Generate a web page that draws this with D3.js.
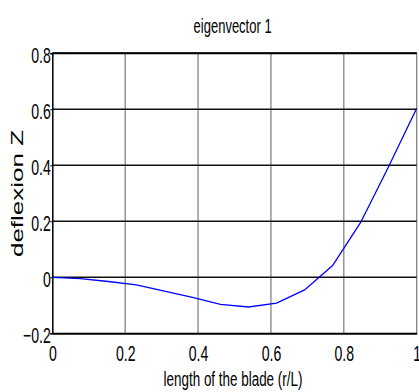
<!DOCTYPE html>
<html>
<head>
<meta charset="utf-8">
<script src="https://cdn.jsdelivr.net/npm/d3@7"></script>
<style>
  body { margin: 0; background: #fff; }
  text { font-family: "Liberation Sans", Arial, sans-serif; fill: #000; }
</style>
</head>
<body>
<div id="chart-area"></div>
<script>
// data (14 nodes along the blade)
var positions = [0, 1/13, 2/13, 3/13, 4/13, 5/13, 6/13, 7/13, 8/13, 9/13, 10/13, 11/13, 12/13, 1]
var deflexion = [0, -0.005, -0.015, -0.027, -0.049, -0.072, -0.097, -0.106, -0.092, -0.045, 0.042, 0.196, 0.396, 0.604]
var xTicks = [0, 0.2, 0.4, 0.6, 0.8, 1]
var yTicks = [-0.2, 0, 0.2, 0.4, 0.6, 0.8]

var margin = { left: 52.3, right: 2.3, top: 53.3, bottom: 58.7 }
var width = 419 - margin.left - margin.right,
    height = 392 - margin.top - margin.bottom
var squish = 0.64   // text in the picture is narrowed horizontally

var svg = d3.select("#chart-area")
  .append("svg")
    .attr("width", 419)
    .attr("height", 392)
var g = svg.append("g")
    .attr("transform", "translate(" + margin.left + "," + margin.top + ")")

// scales
var x = d3.scaleLinear().domain([0, 1]).range([0, width])
var y = d3.scaleLinear().domain([-0.2, 0.8]).range([height, 0])

// grid - vertical lines grey, horizontal lines dark
g.selectAll(".vgrid").data(xTicks.slice(1))
  .enter().append("line")
    .attr("class", "vgrid")
    .attr("x1", d => x(d)).attr("x2", d => x(d))
    .attr("y1", 0).attr("y2", height)
    .attr("stroke", "#7a7a7a")
    .attr("stroke-width", 1.2)
g.selectAll(".hgrid").data(yTicks.slice(1))
  .enter().append("line")
    .attr("class", "hgrid")
    .attr("x1", 0).attr("x2", width)
    .attr("y1", d => y(d)).attr("y2", d => y(d))
    .attr("stroke", "#111")
    .attr("stroke-width", 1.5)

// axes
var xAxisCall = d3.axisBottom(x)
  .tickValues(xTicks)
  .tickSize(0)
  .tickFormat(d => d3.format("")(d))
var xAxis = g.append("g")
  .attr("transform", "translate(0," + height + ")")
  .call(xAxisCall)
xAxis.select(".domain").attr("stroke", "#000").attr("stroke-width", 2)
xAxis.selectAll("text")
  .attr("font-size", "22px")
  .attr("y", 0)
  .attr("dy", 0)
  .attr("transform", "translate(0,27.5) scale(" + squish + ",1)")

var yAxisCall = d3.axisLeft(y)
  .tickValues(yTicks)
  .tickSize(2)
  .tickFormat(d => d3.format("")(+d.toFixed(1)))
var yAxis = g.append("g").call(yAxisCall)
yAxis.select(".domain").attr("stroke", "#000").attr("stroke-width", 1.5)
yAxis.selectAll(".tick line").attr("stroke", "#000")
yAxis.selectAll("text")
  .attr("font-size", "22px")
  .attr("x", 0)
  .attr("dy", 0)
  .attr("transform", "translate(-1.5,9) scale(" + squish + ",1)")

// top border
g.append("line")
  .attr("x1", 0).attr("x2", width)
  .attr("y1", 0).attr("y2", 0)
  .attr("stroke", "#000")
  .attr("stroke-width", 2)

// the eigenvector
var line = d3.line()
  .x((d, i) => x(positions[i]))
  .y(d => y(d))
g.append("path")
  .datum(deflexion)
  .attr("fill", "none")
  .attr("stroke", "#0000ff")
  .attr("stroke-width", 1.3)
  .attr("d", line)

// labels
svg.append("text")
  .attr("text-anchor", "middle")
  .attr("font-size", "20px")
  .attr("transform", "translate(232.6,32.7) scale(0.65,1)")
  .text("eigenvector 1")

svg.append("text")
  .attr("text-anchor", "middle")
  .attr("font-size", "21px")
  .attr("transform", "translate(233,385.5) scale(" + squish + ",1)")
  .text("length of the blade (r/L)")

svg.append("text")
  .attr("text-anchor", "middle")
  .attr("font-size", "26px")
  .attr("transform", "translate(23,193.5) scale(" + squish + ",1) rotate(-90)")
  .text("deflexion Z")
</script>
</body>
</html>
